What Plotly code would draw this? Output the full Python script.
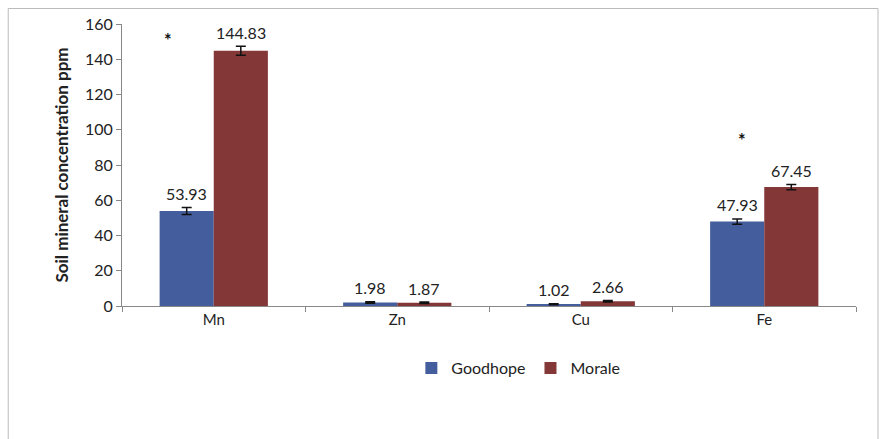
import plotly.graph_objects as go

minerals = ["Mn", "Zn", "Cu", "Fe"]
goodhope = [53.93, 1.98, 1.02, 47.93]
morale = [144.83, 1.87, 2.66, 67.45]
goodhope_err = [2.0, 0.4, 0.3, 1.5]
morale_err = [2.5, 0.4, 0.4, 1.5]
y_ticks = [0, 20, 40, 60, 80, 100, 120, 140, 160]

# significance markers: (mineral, height in ppm, horizontal shift in px)
significance = [("Mn", 151, -46), ("Fe", 94, -22)]

FONT = "Lato, 'Open Sans', sans-serif"
BLUE = "#445d9c"
RED = "#843737"

fig = go.Figure()
for name, vals, errs, col in [("Goodhope", goodhope, goodhope_err, BLUE),
                              ("Morale", morale, morale_err, RED)]:
    fig.add_trace(go.Bar(
        name=name, x=minerals, y=vals,
        marker=dict(color=col, line=dict(width=0)),
        error_y=dict(type="data", array=errs, color="#111111",
                     thickness=1.5, width=5),
        textposition="none",
    ))

# value labels above each bar and its error bar
for vals, errs, shift in [(goodhope, goodhope_err, -27), (morale, morale_err, 27)]:
    for m, v, e in zip(minerals, vals, errs):
        fig.add_annotation(x=m, y=v + e, text=f"{v:.2f}", showarrow=False,
                           xshift=shift, yshift=14,
                           font=dict(family=FONT, size=16, color="#222222"))

for m, h, dx in significance:
    fig.add_annotation(x=m, y=h, text="<b>*</b>", showarrow=False, xshift=dx,
                       font=dict(family=FONT, size=18, color="#111111"))

fig.update_layout(
    width=880, height=439,
    margin=dict(l=122, r=24, t=24, b=133),
    paper_bgcolor="white", plot_bgcolor="white",
    barmode="group", bargap=0.41, bargroupgap=0,
    font=dict(family=FONT, size=15, color="#222222"),
    legend=dict(orientation="h", x=0.54, xanchor="center", y=-0.22,
                yanchor="middle", font=dict(family=FONT, size=16),
                itemwidth=30, itemsizing="constant"),
    xaxis=dict(showline=True, linecolor="#888888", linewidth=1,
               ticks="outside", tickson="boundaries", ticklen=5,
               tickcolor="#888888", showgrid=False,
               tickfont=dict(family=FONT, size=15)),
    yaxis=dict(range=[0, 160], tickvals=y_ticks, showline=True,
               linecolor="#888888", linewidth=1, ticks="outside",
               ticklen=5, tickcolor="#888888", showgrid=False,
               zeroline=False, tickfont=dict(family=FONT, size=16),
               title=dict(text="<b>Soil mineral concentration ppm</b>",
                          font=dict(family=FONT, size=17), standoff=12)),
    shapes=[dict(type="rect", xref="paper", yref="paper",
                 x0=-0.155, x1=1.03, y0=-0.555, y1=1.055,
                 line=dict(color="#bbbbbb", width=1))],
)

fig.write_html("out.html")
